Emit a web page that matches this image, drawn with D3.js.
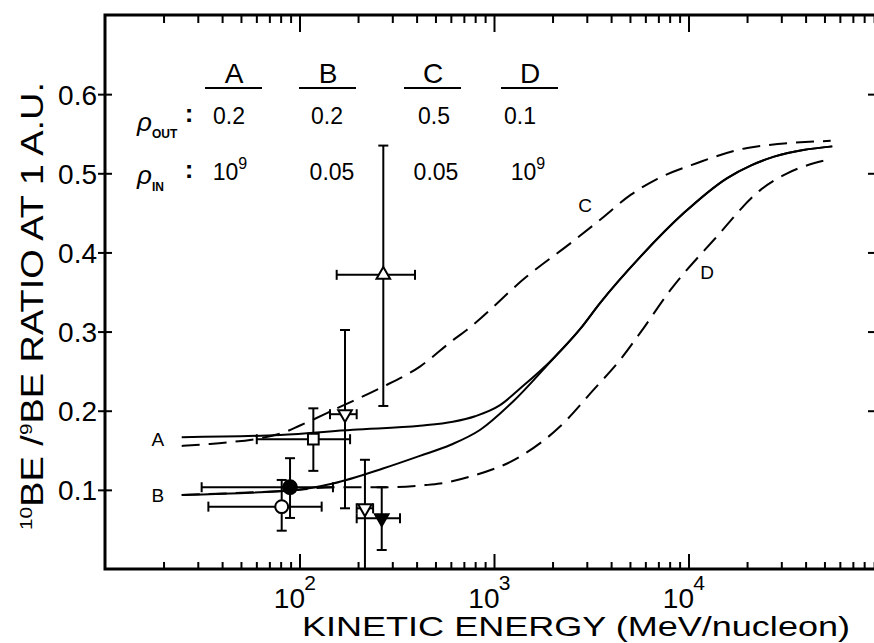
<!DOCTYPE html>
<html>
<head>
<meta charset="utf-8">
<script src="https://cdn.jsdelivr.net/npm/d3@7"></script>
<style>
  body { margin: 0; background: #fff; }
  svg { display: block; background: #fff; font-family: 'Liberation Sans', Arial, sans-serif; }
  .frame { fill: none; stroke: #000; stroke-width: 3; }
  .axis path.domain { display: none; }
  .axis .tick line { stroke: #000; stroke-width: 2; }
  .axis .tick text { fill: #000; }
  .curve { fill: none; stroke: #000; stroke-width: 2; }
  .dashed { stroke-dasharray: 18 9; }
  .err { stroke: #000; stroke-width: 2; }
</style>
</head>
<body>
<div id="chart"></div>
<script>
// model curves (energy in MeV/nucleon, 10Be/9Be ratio)
const energyA = [24.8, 79.4, 188, 416, 615, 800, 1074, 1361, 2018, 2768, 3508, 5680, 9480, 15820, 21000, 27540, 54850];
const ratioA = [0.1665, 0.1694, 0.176, 0.181, 0.186, 0.193, 0.207, 0.228, 0.266, 0.303, 0.336, 0.395, 0.450, 0.494, 0.510, 0.521, 0.534];
const energyB = [24.8, 96.7, 148.6, 268.5, 416, 600, 850, 1257, 2018, 2768, 3508, 5680, 9480, 15820, 21000, 27540, 54850];
const ratioB = [0.0936, 0.0999, 0.108, 0.127, 0.143, 0.157, 0.176, 0.212, 0.266, 0.303, 0.336, 0.395, 0.450, 0.494, 0.510, 0.521, 0.534];
const energyC = [24.8, 34.7, 81, 100.6, 161.5, 259, 416, 618, 724, 1473, 2576, 3540, 5060, 6920, 11090, 20060, 53830];
const ratioC = [0.1555, 0.158, 0.1716, 0.1813, 0.2048, 0.2284, 0.2558, 0.2895, 0.302, 0.3695, 0.415, 0.442, 0.473, 0.493, 0.513, 0.532, 0.541];
const energyD = [24.8, 96.7, 148.6, 292, 442, 528, 753, 1361, 2184, 3238, 4443, 5630, 8100, 13520, 23480, 32200, 51730];
const ratioD = [0.0936, 0.0999, 0.1033, 0.1033, 0.106, 0.108, 0.1167, 0.142, 0.180, 0.226, 0.264, 0.298, 0.353, 0.416, 0.479, 0.500, 0.517];

// curve labels
const curveNames = ['A', 'B', 'C', 'D'];
const labelEnergy = [18.7, 18.7, 2940, 12450];
const labelRatio = [0.164, 0.0936, 0.46, 0.375];

// measurements with error bars
const pointEnergy = [89.4, 81, 117.8, 171.4, 217, 264.7, 269.7];
const pointRatio = [0.1033, 0.0788, 0.164, 0.1956, 0.0767, 0.0641, 0.3717];
const energyLow = [31.4, 34, 60.3, 143.5, 196.8, 196.8, 155.3];
const energyHigh = [148.6, 130, 182, 196.8, 239, 328.7, 392.6];
const ratioLow = [0.0645, 0.0484, 0.124, 0.0767, 0, 0.024, 0.206];
const ratioHigh = [0.140, 0.1125, 0.203, 0.302, 0.138, 0.1033, 0.535];
const pointSymbol = ['circleFilled', 'circleOpen', 'squareOpen', 'downOpen', 'downOpen', 'downFilled', 'upOpen'];

// parameter table
const tableCols = ['A', 'B', 'C', 'D'];
const rhoOut = ['0.2', '0.2', '0.5', '0.1'];
const rhoIn = ['10^9', '0.05', '0.05', '10^9'];

// axes
const decadeTicks = [100, 1000, 10000];
const decadeExp = ['2', '3', '4'];
const ratioTicks = [0.1, 0.2, 0.3, 0.4, 0.5, 0.6];
const rightTicks = [0.2, 0.3, 0.4, 0.5, 0.6];

const W = 874, H = 643;
const mLeft = 105, mTop = 15, mRight = 878, mBottom = 569;

const minorTicks = [];
[10, 100, 1000, 10000].forEach(d => { for (let m = 2; m <= 9; m++) minorTicks.push(d * m); });

const x = d3.scaleLog().domain([10, 1e5]).range([mLeft, 883]);
const y = d3.scaleLinear().domain([0, 0.7]).range([mBottom, mTop]);

const svg = d3.select('#chart').append('svg').attr('width', W).attr('height', H);

// bottom axis: inward ticks
svg.append('g').attr('class', 'axis').attr('transform', `translate(0,${mBottom})`)
    .call(d3.axisBottom(x).tickValues(minorTicks).tickSize(-7).tickFormat(''));
const bottomMajor = svg.append('g').attr('class', 'axis').attr('transform', `translate(0,${mBottom})`)
    .call(d3.axisBottom(x).tickValues(decadeTicks).tickSize(-15).tickFormat(''));
bottomMajor.selectAll('.tick').each(function (d, i) {
    d3.select(this).append('text')
        .attr('x', 5).attr('y', 39)
        .attr('text-anchor', 'end')
        .attr('font-size', 28)
        .text('10');
    d3.select(this).append('text')
        .attr('x', 10).attr('y', 21)
        .attr('font-size', 21)
        .attr('fill', '#000')
        .text(decadeExp[i]);
});

// top axis
svg.append('g').attr('class', 'axis').attr('transform', `translate(0,${mTop})`)
    .call(d3.axisTop(x).tickValues(minorTicks).tickSize(-8).tickFormat(''));
svg.append('g').attr('class', 'axis').attr('transform', `translate(0,${mTop})`)
    .call(d3.axisTop(x).tickValues(decadeTicks).tickSize(-17).tickFormat(''));

// left axis, ticks cross the frame
svg.append('g').attr('class', 'axis').attr('transform', `translate(${mLeft},0)`)
    .call(d3.axisLeft(y).tickValues(ratioTicks).tickSize(7).tickPadding(1).tickFormat(d3.format('.1f')))
    .call(g => g.selectAll('.tick line').attr('x1', 7))
    .call(g => g.selectAll('.tick text').attr('font-size', 28).attr('dy', '0.36em'));

// right axis (frame edge sits just outside the picture)
svg.append('g').attr('class', 'axis').attr('transform', `translate(${mRight},0)`)
    .call(d3.axisLeft(y).tickValues(rightTicks).tickSize(10).tickFormat(''));

svg.append('rect').attr('class', 'frame')
    .attr('x', mLeft).attr('y', mTop)
    .attr('width', mRight - mLeft).attr('height', mBottom - mTop);

// model curves
const line = d3.line().curve(d3.curveMonotoneX).x(d => x(d[0])).y(d => y(d[1]));
const curves = [
    { e: energyA, r: ratioA, dashed: false },
    { e: energyB, r: ratioB, dashed: false },
    { e: energyC, r: ratioC, dashed: true },
    { e: energyD, r: ratioD, dashed: true }
];
curves.forEach(c => {
    svg.append('path')
        .attr('class', c.dashed ? 'curve dashed' : 'curve')
        .attr('d', line(d3.zip(c.e, c.r)));
});

curveNames.forEach((n, i) => {
    svg.append('text')
        .attr('x', x(labelEnergy[i])).attr('y', y(labelRatio[i]))
        .attr('dy', '0.36em')
        .attr('text-anchor', 'middle')
        .attr('font-size', 19)
        .text(n);
});

// error bars
const cap = 5;
pointEnergy.forEach((e, i) => {
    const g = svg.append('g').attr('class', 'err');
    const px = x(e), py = y(pointRatio[i]);
    const x0 = x(energyLow[i]), x1 = x(energyHigh[i]);
    const y0 = y(ratioLow[i]), y1 = y(ratioHigh[i]);
    g.append('line').attr('x1', x0).attr('x2', x1).attr('y1', py).attr('y2', py);
    g.append('line').attr('x1', x0).attr('x2', x0).attr('y1', py - cap).attr('y2', py + cap);
    g.append('line').attr('x1', x1).attr('x2', x1).attr('y1', py - cap).attr('y2', py + cap);
    g.append('line').attr('x1', px).attr('x2', px).attr('y1', y0).attr('y2', y1);
    g.append('line').attr('x1', px - cap).attr('x2', px + cap).attr('y1', y0).attr('y2', y0);
    g.append('line').attr('x1', px - cap).attr('x2', px + cap).attr('y1', y1).attr('y2', y1);
});

// markers
const symbolFor = {
    circleFilled: { type: d3.symbolCircle, size: 150, fill: '#000', rot: 0 },
    circleOpen: { type: d3.symbolCircle, size: 130, fill: '#fff', rot: 0 },
    squareOpen: { type: d3.symbolSquare, size: 115, fill: '#fff', rot: 0 },
    downOpen: { type: d3.symbolTriangle, size: 80, fill: '#fff', rot: 180 },
    downFilled: { type: d3.symbolTriangle, size: 80, fill: '#000', rot: 180 },
    upOpen: { type: d3.symbolTriangle, size: 80, fill: '#fff', rot: 0 }
};
pointEnergy.forEach((e, i) => {
    const s = symbolFor[pointSymbol[i]];
    svg.append('path')
        .attr('d', d3.symbol().type(s.type).size(s.size)())
        .attr('transform', `translate(${x(e)},${y(pointRatio[i])}) rotate(${s.rot})`)
        .attr('fill', s.fill)
        .attr('stroke', '#000')
        .attr('stroke-width', 2);
});

// parameter table
const colX = [234, 328, 433, 530];
const tbl = svg.append('g').attr('fill', '#000');
tableCols.forEach((c, i) => {
    tbl.append('text').attr('x', colX[i]).attr('y', 83)
        .attr('text-anchor', 'middle').attr('font-size', 28).text(c);
    tbl.append('line').attr('x1', colX[i] - 29).attr('x2', colX[i] + 28)
        .attr('y1', 88).attr('y2', 88).attr('stroke', '#000').attr('stroke-width', 2);
});
const valX = [229, 327, 434, 520];
const valX2 = [230, 332, 436, 528];
rhoOut.forEach((v, i) => {
    tbl.append('text').attr('x', valX[i]).attr('y', 124)
        .attr('text-anchor', 'middle').attr('font-size', 23).text(v);
});
rhoIn.forEach((v, i) => {
    const t = tbl.append('text').attr('x', valX2[i]).attr('y', 180)
        .attr('text-anchor', 'middle').attr('font-size', 23);
    if (v.indexOf('^') > 0) {
        const parts = v.split('^');
        t.append('tspan').text(parts[0]);
        t.append('tspan').attr('font-size', 16).attr('dy', -11).text(parts[1]);
    } else {
        t.text(v);
    }
});
// row labels
[['OUT', 131, 124], ['IN', 184, 180]].forEach(([sub, yr, yc]) => {
    tbl.append('text').attr('x', 137).attr('y', yr)
        .attr('font-size', 26).attr('font-style', 'italic').text('ρ');
    tbl.append('text').attr('x', 152).attr('y', yr + 7)
        .attr('font-size', 12).attr('font-weight', 'bold').text(sub);
    tbl.append('text').attr('x', 189).attr('y', yc - 2)
        .attr('text-anchor', 'middle').attr('font-size', 26).attr('font-weight', 'bold').text(':');
});

// axis titles
svg.append('text')
    .attr('x', 302).attr('y', 636)
    .attr('font-size', 28)
    .attr('textLength', 548).attr('lengthAdjust', 'spacingAndGlyphs')
    .text('KINETIC ENERGY (MeV/nucleon)');

const yt = svg.append('text')
    .attr('transform', 'translate(43,306) rotate(-90)')
    .attr('text-anchor', 'middle')
    .attr('font-size', 31)
    .attr('textLength', 448).attr('lengthAdjust', 'spacingAndGlyphs');
yt.append('tspan').attr('font-size', 17).attr('dy', -11).text('10');
yt.append('tspan').attr('dy', 11).text('BE /');
yt.append('tspan').attr('font-size', 17).attr('dy', -11).text('9');
yt.append('tspan').attr('dy', 11).text('BE  RATIO  AT  1  A.U.');
</script>
</body>
</html>
